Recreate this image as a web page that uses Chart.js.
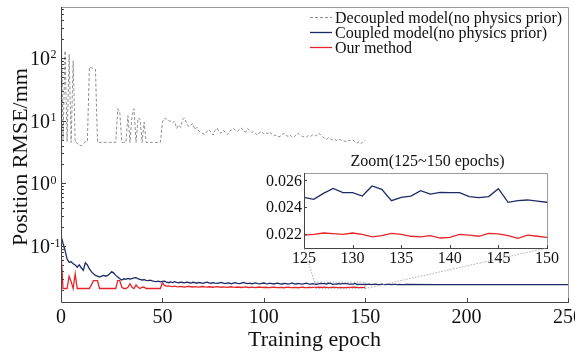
<!DOCTYPE html>
<html><head><meta charset="utf-8">
<script src="https://cdn.jsdelivr.net/npm/chart.js@4.4.1/dist/chart.umd.min.js"></script>
<style>
html,body{margin:0;padding:0;background:#fff;}
#wrap{position:relative;width:575px;height:354px;overflow:hidden;}
#main{position:absolute;left:0;top:0;}
#inset{position:absolute;left:240px;top:145px;}
</style></head><body>
<div id="wrap"><canvas id="main" width="575" height="354"></canvas><canvas id="inset" width="335" height="160"></canvas></div>
<script>
const seriesLabels = ['Decoupled model(no physics prior)', 'Coupled model(no physics prior)', 'Our method'];
const xTitle = 'Training epoch';
const yTitle = 'Position RMSE/mm';
const insetTitle = 'Zoom(125~150 epochs)';

// epochs 0..150 (index = epoch)
const decoupled = [
600, 5, 130, 4.6, 115, 4.5, 90, 4.5, 4.4, 4.0,
4.0, 4.3, 4.6, 4.6, 72, 70, 68, 66, 4.5, 4.5,
4.5, 4.5, 4.5, 4.5, 4.5, 4.5, 4.5, 4.5, 15.5, 13.5,
4.5, 4.5, 4.5, 12, 4.5, 12, 15.5, 4.5, 11, 10.5,
4.5, 9.5, 4.5, 4.5, 4.5, 4.5, 4.5, 4.5, 4.5, 4.5,
9.5, 11, 10.5, 10, 9.8, 9.2, 9.8, 7.5, 8.5, 7.8,
10.5, 11, 9, 8, 8.5, 9, 7.2, 7.8, 6.8, 6.5,
6.2, 6.0, 6.8, 7.2, 6.5, 5.9, 7.0, 7.6, 6.6, 6.3,
7.0, 6.5, 6.0, 6.7, 7.1, 7.6, 7.0, 6.7, 7.3, 7.6,
6.8, 6.6, 7.5, 7.0, 6.5, 6.7, 6.2, 5.9, 6.5, 6.7,
6.1, 6.4, 6.2, 6.6, 6.0, 5.8, 5.9, 5.5, 5.6, 6.0,
6.3, 5.8, 5.6, 5.9, 5.4, 5.5, 6.0, 6.3, 5.8, 5.6,
5.5, 5.5, 5.8, 5.6, 5.9, 5.7, 5.8, 6.3, 6.0, 5.6,
5.2, 5.0, 5.4, 5.1, 4.9, 5.0, 4.8, 5.1, 4.9, 4.8,
4.7, 4.6, 4.9, 4.8, 4.9, 4.6, 4.4, 4.6, 4.3, 4.6,
4.9
];

// epochs 0..170 (index = epoch)
const coupledHead = [
0.145, 0.11, 0.085, 0.062, 0.055, 0.056, 0.052, 0.05, 0.046, 0.05,
0.045, 0.041, 0.054, 0.05, 0.043, 0.039, 0.036, 0.034, 0.033, 0.032,
0.033, 0.034, 0.033, 0.034, 0.036, 0.039, 0.037, 0.034, 0.032, 0.030,
0.0287, 0.030, 0.0295, 0.0305, 0.0298, 0.0302, 0.031, 0.0314, 0.030, 0.0295,
0.0287, 0.029, 0.0283, 0.028, 0.0285, 0.0278, 0.0272, 0.027, 0.0276, 0.0268,
0.0272, 0.0275, 0.0265, 0.026, 0.0268, 0.0262, 0.027, 0.0264, 0.026, 0.0266,
0.0262, 0.0258, 0.0265, 0.0262, 0.0257, 0.0264, 0.026, 0.0255, 0.0262, 0.0258,
0.0254, 0.0261, 0.0266, 0.0258, 0.0255, 0.026, 0.0256, 0.0253, 0.0259, 0.0262,
0.0255, 0.0252, 0.0258, 0.0255, 0.025, 0.0256, 0.026, 0.0254, 0.0251, 0.0257,
0.0262, 0.0255, 0.0252, 0.0256, 0.025, 0.0254, 0.0258, 0.0252, 0.0249, 0.0254,
0.0257, 0.0251, 0.0249, 0.0255, 0.0252, 0.0248, 0.0253, 0.0256, 0.025, 0.0248,
0.0254, 0.0251, 0.0247, 0.0252, 0.0258, 0.025, 0.0248, 0.0253, 0.025, 0.0247,
0.0252, 0.0255, 0.0249, 0.0247, 0.0251,
0.02472, 0.02457, 0.02501, 0.02538, 0.02506, 0.02506, 0.02481, 0.02556, 0.02531, 0.02447,
0.02472, 0.02481, 0.02521, 0.02496, 0.02509, 0.02506, 0.02506, 0.02477, 0.02469, 0.02477,
0.02536, 0.02435, 0.02447, 0.02452, 0.02444, 0.02435,
0.0244, 0.0246, 0.0243, 0.0245, 0.0247, 0.0244, 0.0242, 0.0246, 0.0244, 0.0243,
0.0245, 0.0244, 0.0242, 0.0244, 0.0245, 0.0243, 0.0244, 0.0243, 0.0243, 0.0244
];
const coupledTailEpochs = [185, 210, 230, 250];
const coupledTailValues = [0.0243, 0.0243, 0.0243, 0.0243];

// epochs 0..150 (index = epoch)
const ours = [
0.08, 0.021, 0.021, 0.021, 0.033, 0.027, 0.021, 0.036, 0.021, 0.021,
0.021, 0.021, 0.021, 0.021, 0.021, 0.024, 0.028, 0.028, 0.028, 0.021,
0.021, 0.021, 0.021, 0.021, 0.021, 0.021, 0.021, 0.021, 0.028, 0.028,
0.022, 0.021, 0.021, 0.022, 0.025, 0.022, 0.021, 0.024, 0.022, 0.021,
0.022, 0.022, 0.021, 0.021, 0.021, 0.021, 0.021, 0.021, 0.021, 0.021,
0.026, 0.0235, 0.023, 0.0232, 0.0228, 0.0226, 0.0229, 0.0225, 0.0223, 0.0227,
0.0224, 0.0222, 0.0226, 0.0228, 0.0224, 0.0222, 0.0225, 0.0223, 0.0221, 0.0224,
0.0226, 0.0223, 0.0221, 0.0224, 0.0222, 0.022, 0.0223, 0.0225, 0.0222, 0.022,
0.0223, 0.0221, 0.0219, 0.0222, 0.0224, 0.0221, 0.0219, 0.0222, 0.022, 0.0218,
0.0221, 0.0223, 0.022, 0.0218, 0.0221, 0.0219, 0.0217, 0.022, 0.0222, 0.0219,
0.0218, 0.022, 0.0218, 0.0217, 0.022, 0.0221, 0.0218, 0.0217, 0.0219, 0.0218,
0.0216, 0.0219, 0.0221, 0.0218, 0.0217, 0.0219, 0.0218, 0.0216, 0.0219, 0.022,
0.0218, 0.0217, 0.0219, 0.0218, 0.0219,
0.02192, 0.02197, 0.02207, 0.02202, 0.02197, 0.02207, 0.02197, 0.02178, 0.02188, 0.02205,
0.02197, 0.02183, 0.02178, 0.02188, 0.02170, 0.02175, 0.02197, 0.02192, 0.02183, 0.02205,
0.02200, 0.02188, 0.02168, 0.02192, 0.02183, 0.02175
];

const xTicks = [0, 50, 100, 150, 200, 250];
const yMajorExp = [-1, 0, 1, 2];
const insetXTicks = [125, 130, 135, 140, 145, 150];
const insetYTicks = [0.022, 0.024, 0.026];
const zoomRange = [125, 150];

const COL_DEC = '#8f8f8f', COL_CPL = '#1c2b68', COL_OUR = '#e5252b';
const FONT = '"Liberation Serif", "Times New Roman", serif';
Chart.defaults.font.family = FONT;

const toPts = (arr, start) => arr.map((v, i) => ({x: start + i, y: v}));
const coupledPts = toPts(coupledHead, 0).concat(coupledTailEpochs.map((e, i) => ({x: e, y: coupledTailValues[i]})));

const mainDeco = {
  id: 'mainDeco',
  afterDraw(chart) {
    const {ctx, chartArea: a, scales: {x, y}} = chart;
    ctx.save();
    ctx.lineWidth = 1;
    // top/right frame
    ctx.strokeStyle = '#9a9a9a';
    ctx.beginPath();
    ctx.moveTo(a.left, a.top + 0.5); ctx.lineTo(a.right + 0.5, a.top + 0.5); ctx.lineTo(a.right + 0.5, a.bottom);
    ctx.stroke();
    // axes
    ctx.strokeStyle = '#444';
    ctx.beginPath();
    ctx.moveTo(a.left + 0.5, a.top); ctx.lineTo(a.left + 0.5, a.bottom + 0.5); ctx.lineTo(a.right + 1, a.bottom + 0.5);
    ctx.stroke();
    // x ticks inward
    ctx.beginPath();
    xTicks.forEach(t => {
      const px = Math.round(x.getPixelForValue(t)) + 0.5;
      ctx.moveTo(px, a.bottom); ctx.lineTo(px, a.bottom - 4);
    });
    ctx.stroke();
    // y log ticks inward
    ctx.beginPath();
    for (let d = -2; d <= 2; d++) {
      for (let m = 1; m <= 9; m++) {
        const v = m * Math.pow(10, d);
        if (v < y.min || v > y.max) continue;
        const py = Math.round(y.getPixelForValue(v)) + 0.5;
        ctx.moveTo(a.left, py); ctx.lineTo(a.left + (m === 1 ? 5 : 3), py);
      }
    }
    ctx.stroke();
    // tick labels
    ctx.fillStyle = '#111';
    ctx.font = '20px ' + FONT;
    ctx.textAlign = 'center'; ctx.textBaseline = 'alphabetic';
    xTicks.forEach(t => ctx.fillText(String(t), x.getPixelForValue(t), 323));
    yMajorExp.forEach(e => {
      const py = y.getPixelForValue(Math.pow(10, e));
      ctx.font = '20px ' + FONT; ctx.textAlign = 'left';
      ctx.fillText('10', 30, py + 7);
      ctx.font = '12px ' + FONT;
      ctx.fillText(e < 0 ? '-' + Math.abs(e) : String(e), 50.5, py + 0.5);
    });
    // axis titles
    ctx.font = '22px ' + FONT;
    ctx.textAlign = 'center';
    ctx.fillText(xTitle, (a.left + a.right) / 2, 346);
    ctx.save();
    ctx.translate(27, 157);
    ctx.rotate(-Math.PI / 2);
    ctx.fillText(yTitle, 0, 0);
    ctx.restore();
    // legend
    ctx.font = '16px ' + FONT; ctx.textAlign = 'left';
    chart.data.datasets.forEach((ds, i) => {
      const cy = 17 + i * 15;
      ctx.strokeStyle = ds.borderColor; ctx.lineWidth = ds.borderWidth;
      ctx.setLineDash(ds.borderDash || []);
      ctx.beginPath(); ctx.moveTo(310, cy + 0.5); ctx.lineTo(332, cy + 0.5); ctx.stroke();
      ctx.setLineDash([]);
      ctx.fillStyle = '#111';
      ctx.fillText(ds.label, 335, cy + 6);
    });
    ctx.restore();
  }
};

const mainChart = new Chart(document.getElementById('main'), {
  type: 'line',
  data: {
    datasets: [
      {label: seriesLabels[0], data: toPts(decoupled, 0), borderColor: COL_DEC, borderWidth: 1, borderDash: [3, 2], pointRadius: 0, tension: 0},
      {label: seriesLabels[1], data: coupledPts, borderColor: COL_CPL, borderWidth: 1.3, pointRadius: 0, tension: 0},
      {label: seriesLabels[2], data: toPts(ours, 0), borderColor: COL_OUR, borderWidth: 1.3, pointRadius: 0, tension: 0}
    ]
  },
  options: {
    responsive: false, animation: false, devicePixelRatio: 1,
    layout: {padding: {left: 0, right: 7, top: 7, bottom: 0}},
    plugins: {legend: {display: false}, tooltip: {enabled: false}, title: {display: false}},
    scales: {
      x: {type: 'linear', min: 0, max: 250, ticks: {display: false}, grid: {display: false}, border: {display: false},
          afterFit(s) { s.height = 52; }},
      y: {type: 'logarithmic', min: 0.0128, max: 650, ticks: {display: false}, grid: {display: false}, border: {display: false},
          afterFit(s) { s.width = 61; }}
    }
  },
  plugins: [mainDeco]
});

const OFFX = 240, OFFY = 145;
const insetDeco = {
  id: 'insetDeco',
  afterDraw(chart) {
    const {ctx, chartArea: a, scales: {x, y}} = chart;
    ctx.save();
    ctx.lineWidth = 1;
    ctx.strokeStyle = '#9a9a9a';
    ctx.beginPath();
    ctx.moveTo(a.left, a.top + 0.5); ctx.lineTo(a.right + 0.5, a.top + 0.5); ctx.lineTo(a.right + 0.5, a.bottom);
    ctx.stroke();
    ctx.strokeStyle = '#444';
    ctx.beginPath();
    ctx.moveTo(a.left + 0.5, a.top); ctx.lineTo(a.left + 0.5, a.bottom + 0.5); ctx.lineTo(a.right + 1, a.bottom + 0.5);
    ctx.stroke();
    ctx.beginPath();
    insetYTicks.forEach(t => { const py = Math.round(y.getPixelForValue(t)) + 0.5; ctx.moveTo(a.left, py); ctx.lineTo(a.left + 3, py); });
    insetXTicks.forEach(t => { const px = Math.round(x.getPixelForValue(t)) + 0.5; ctx.moveTo(px, a.bottom); ctx.lineTo(px, a.bottom - 3); });
    ctx.stroke();
    ctx.fillStyle = '#111';
    ctx.font = '16px ' + FONT;
    ctx.textAlign = 'right'; ctx.textBaseline = 'alphabetic';
    insetYTicks.forEach(t => ctx.fillText(t.toFixed(3), a.left - 2, y.getPixelForValue(t) + 5.5));
    ctx.textAlign = 'center';
    insetXTicks.forEach(t => ctx.fillText(String(t), x.getPixelForValue(t), a.bottom + 15));
    ctx.fillText(insetTitle, (a.left + a.right) / 2 + 2, a.top - 7);
    // zoom box in main chart + connectors
    const mx = mainChart.scales.x, my = mainChart.scales.y;
    const rx1 = mx.getPixelForValue(zoomRange[0]) - OFFX, rx2 = mx.getPixelForValue(zoomRange[1]) - OFFX;
    const ry1 = my.getPixelForValue(y.max) - OFFY, ry2 = my.getPixelForValue(y.min) - OFFY;
    ctx.strokeStyle = '#9a9a9a'; ctx.lineWidth = 0.8; ctx.setLineDash([1.5, 1.5]);
    ctx.strokeRect(rx1, ry1, rx2 - rx1, ry2 - ry1);
    ctx.beginPath();
    ctx.moveTo(rx1, ry1); ctx.lineTo(a.left, a.bottom);
    ctx.moveTo(rx2, ry2); ctx.lineTo(a.right, a.bottom);
    ctx.stroke();
    ctx.restore();
  }
};

new Chart(document.getElementById('inset'), {
  type: 'line',
  data: {
    datasets: [
      {label: seriesLabels[1], data: toPts(coupledHead.slice(zoomRange[0], zoomRange[1] + 1), zoomRange[0]), borderColor: COL_CPL, borderWidth: 1.3, pointRadius: 0, tension: 0},
      {label: seriesLabels[2], data: toPts(ours.slice(zoomRange[0], zoomRange[1] + 1), zoomRange[0]), borderColor: COL_OUR, borderWidth: 1.3, pointRadius: 0, tension: 0}
    ]
  },
  options: {
    responsive: false, animation: false, devicePixelRatio: 1,
    layout: {padding: {left: 0, right: 28, top: 28, bottom: 0}},
    plugins: {legend: {display: false}, tooltip: {enabled: false}},
    scales: {
      x: {type: 'linear', min: 125, max: 150, ticks: {display: false}, grid: {display: false}, border: {display: false},
          afterFit(s) { s.height = 57; }},
      y: {type: 'linear', min: 0.02096, max: 0.02652, ticks: {display: false}, grid: {display: false}, border: {display: false},
          afterFit(s) { s.width = 64; }}
    }
  },
  plugins: [insetDeco]
});
</script>
</body></html>
